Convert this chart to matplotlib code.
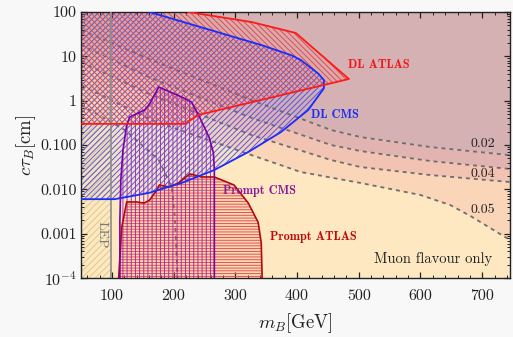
import numpy as np
import matplotlib
matplotlib.use('Agg')
import matplotlib.pyplot as plt
from matplotlib.ticker import FixedLocator, FixedFormatter, MultipleLocator, LogLocator, NullFormatter

plt.rcParams['font.family'] = 'serif'
plt.rcParams['font.serif'] = ['cmr10']
plt.rcParams['mathtext.fontset'] = 'cm'
plt.rcParams['axes.unicode_minus'] = False
plt.rcParams['hatch.linewidth'] = 0.65

# -----------------------------
# data: m_B [GeV], c*tau_B [cm]
# -----------------------------
# background contours (left -> right)
c_m = [50, 164, 326, 455, 503, 616, 745]
c002_ct = [39, 8.3, 1.03, 0.218, 0.151, 0.090, 0.059]
c003_ct = [18, 3.2, 0.41, 0.10, 0.073, 0.0435, 0.0288]
c004_ct = [7.4, 1.34, 0.168, 0.0458, 0.0318, 0.021, 0.0146]
c005_m = [50, 164, 326, 406, 503, 600, 648, 681, 713, 745]
c005_ct = [2.25, 0.366, 0.0594, 0.0246, 0.0139, 0.00745, 0.00443, 0.0025, 0.00134, 0.00072]
steep_m = [50, 121, 176, 197, 202, 206.5]
steep_ct = [0.8, 0.218, 0.046, 0.0112, 0.0024, 1e-4]
contour_labels = ['0.02', '0.04', '0.05']
contour_label_m = [701, 701, 701]
contour_label_ct = [0.103, 0.0222, 0.0035]

# DL ATLAS
dla_m = [50, 224, 326, 398, 484, 240, 218, 50]
dla_ct = [100, 100, 59.5, 33.6, 3.08, 0.475, 0.30, 0.30]
# DL CMS
dlc_m = [50, 161, 342, 390, 406, 427, 435, 443.5, 443.5, 418, 374, 321, 266, 213, 160, 105, 50]
dlc_ct = [100, 100, 18, 10.7, 8.3, 4.9, 4.0, 2.9, 1.9, 0.615, 0.196, 0.0695, 0.0273, 0.0139, 0.0083, 0.006, 0.006]
# Prompt CMS
pc_m = [113, 113, 114.5, 118, 124, 129, 153, 161, 176, 213, 229, 242, 258, 264.5, 266, 266]
pc_ct = [1e-4, 0.002, 0.016, 0.077, 0.28, 0.43, 0.615, 0.84, 2.03, 1.21, 0.93, 0.43, 0.144, 0.066, 0.027, 1e-4]
# Prompt ATLAS
pa_m = [111, 116, 124, 140, 152, 161, 173, 177, 185.5, 192, 208, 226, 234, 245, 266, 298, 321, 337, 342, 343.5]
pa_ct = [1e-4, 0.0014, 0.0052, 0.0052, 0.0049, 0.0057, 0.0097, 0.0125, 0.0119, 0.0113, 0.0139,
         0.0222, 0.021, 0.019, 0.019, 0.0125, 0.0049, 0.0018, 0.00062, 1e-4]
# LEP bound
lep_m = 98

xmin, xmax = 50, 745
ymin, ymax = 1e-4, 100
yticks = [1e-4, 1e-3, 1e-2, 1e-1, 1, 10, 100]
ytick_labels = [r'$10^{-4}$', '0.001', '0.010', '0.100', '1', '10', '100']

fig = plt.figure(figsize=(5.13, 3.37), dpi=100, facecolor='#f8f8f8')
ax = fig.add_axes([81/513, 59/337, 429/513, 266/337])
ax.set_yscale('log')
ax.set_xlim(xmin, xmax)
ax.set_ylim(ymin, ymax)
ax.set_facecolor('#fde8c2')

# background shading between contours
bg_cols = ['#d5b1b4', '#e2b4b1', '#f2c3b2', '#fad5b8']
ax.fill(c_m + [xmax, xmin], c002_ct + [ymax, ymax], color=bg_cols[0], lw=0, zorder=0.5)
ax.fill(c_m + c_m[::-1], c003_ct + c002_ct[::-1], color=bg_cols[1], lw=0, zorder=0.5)
ax.fill(c_m + c_m[::-1], c004_ct + c003_ct[::-1], color=bg_cols[2], lw=0, zorder=0.5)
ax.fill(c005_m + c_m[::-1], c005_ct + c004_ct[::-1], color=bg_cols[3], lw=0, zorder=0.5)

dash_kw = dict(color='#6e6e6e', lw=1.3, ls=(0, (2.2, 2.2)), zorder=1)
for ct in [c002_ct, c003_ct, c004_ct]:
    ax.plot(c_m, ct, **dash_kw)
ax.plot(c005_m, c005_ct, **dash_kw)
ax.plot(steep_m, steep_ct, **dash_kw)
for lab, lm, lc in zip(contour_labels, contour_label_m, contour_label_ct):
    ax.text(lm, lc, lab, fontsize=10, ha='center', va='center', color='#222222', zorder=4)

# LEP
ax.fill([xmin, lep_m, lep_m, xmin], [ymin, ymin, ymax, ymax], facecolor='none',
        edgecolor='#d8ca86', hatch='/////', lw=0, zorder=1.5)
ax.axvline(lep_m, color='#8c8c8c', lw=1.2, zorder=3)
ax.text(84, 9.3e-4, 'LEP', rotation=-90, fontsize=10, color='#7a7a7a',
        ha='center', va='center', zorder=4)

# Prompt ATLAS
ax.fill(pa_m, pa_ct, facecolor='#e85050', alpha=0.10, lw=0, zorder=1.8)
ax.fill(pa_m, pa_ct, facecolor='none', edgecolor='#e04848', hatch='------', lw=0, zorder=2)
ax.plot(pa_m, pa_ct, color='#b00a0a', lw=1.2, zorder=3)

# Prompt CMS
ax.fill(pc_m, pc_ct, facecolor='none', edgecolor='#a020b0', hatch='||||', lw=0, zorder=2)
ax.plot(pc_m, pc_ct, color='#7a00a8', lw=1.2, zorder=3)

# DL CMS
ax.fill(dlc_m, dlc_ct, facecolor='#6060ff', alpha=0.06, lw=0, zorder=1.8)
ax.fill(dlc_m, dlc_ct, facecolor='none', edgecolor='#5050e0', hatch='//////', lw=0, zorder=2)
ax.plot(dlc_m[1:], dlc_ct[1:], color='#1a2cff', lw=1.3, zorder=3)

# DL ATLAS
ax.fill(dla_m, dla_ct, facecolor='#ff4040', alpha=0.05, lw=0, zorder=1.8)
ax.fill(dla_m, dla_ct, facecolor='none', edgecolor='#e84444', hatch='\\' * 6, lw=0, zorder=2)
ax.plot(dla_m[1:], dla_ct[1:], color='#ff1a1a', lw=1.3, zorder=3)

# labels
bold = dict(family='cmb10', fontsize=8.8, ha='center', va='center', zorder=4)
ax.text(532, 6.3, 'DL ATLAS', color='#f01818', **bold)
ax.text(462, 0.475, 'DL CMS', color='#1a2cf0', **bold)
ax.text(339.5, 0.0094, 'Prompt CMS', color='#8a1a9a', **bold)
ax.text(427, 0.00084, 'Prompt ATLAS', color='#c00a0a', **bold)
ax.text(620, 2.7e-4, 'Muon flavour only', fontsize=10.5, ha='center', va='center',
        color='#222222', zorder=4)

# axes
ax.xaxis.set_major_locator(FixedLocator([100, 200, 300, 400, 500, 600, 700]))
ax.xaxis.set_minor_locator(MultipleLocator(20))
ax.yaxis.set_major_locator(FixedLocator(yticks))
ax.yaxis.set_major_formatter(FixedFormatter(ytick_labels))
ax.yaxis.set_minor_locator(LogLocator(base=10, subs=np.arange(2, 10)))
ax.yaxis.set_minor_formatter(NullFormatter())
ax.tick_params(which='both', direction='in', top=True, right=True, labelsize=11.5,
               color='#222222', labelcolor='#222222')
ax.tick_params(which='major', length=4, width=0.9)
ax.tick_params(which='minor', length=2, width=0.7)
ax.tick_params(axis='x', which='major', pad=8)
ax.tick_params(axis='y', which='major', pad=3)
for sp in ax.spines.values():
    sp.set_linewidth(1.0)
    sp.set_color('#222222')

ax.set_xlabel(r'$m_B[\mathrm{GeV}]$', fontsize=13.5, color='#222222', labelpad=6)
ax.set_ylabel(r'$c\tau_B[\mathrm{cm}]$', fontsize=13.5, color='#222222', labelpad=2)

fig.savefig('out.png', dpi=100, facecolor=fig.get_facecolor())
